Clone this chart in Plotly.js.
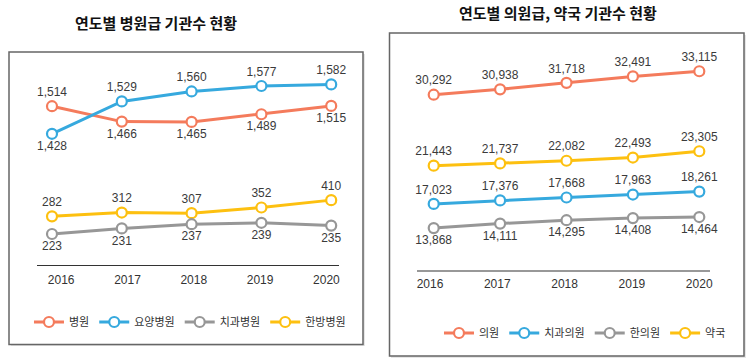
<!DOCTYPE html>
<html>
<head>
<meta charset="utf-8">
<script src="https://cdn.plot.ly/plotly-3.0.1.min.js"></script>
<style>html,body{margin:0;padding:0;background:#fff;}#chart{width:756px;height:359px;}</style>
</head>
<body>
<div id="chart"></div>
<script>
// ---- data ----
const years = [2016, 2017, 2018, 2019, 2020];
const yearLabels = ['2016', '2017', '2018', '2019', '2020'];

const leftTitle = '연도별 병원급 기관수 현황';
const rightTitle = '연도별 의원급, 약국 기관수 현황';

const hospital = [1514, 1466, 1465, 1489, 1515];          // 병원
const nursingHospital = [1428, 1529, 1560, 1577, 1582];   // 요양병원
const dentalHospital = [223, 231, 237, 239, 235];         // 치과병원
const orientalHospital = [282, 312, 307, 352, 410];       // 한방병원

const clinic = [30292, 30938, 31718, 32491, 33115];       // 의원
const dentalClinic = [17023, 17376, 17668, 17963, 18261]; // 치과의원
const orientalClinic = [13868, 14111, 14295, 14408, 14464]; // 한의원
const pharmacy = [21443, 21737, 22082, 22493, 23305];     // 약국

// ---- styles ----
const C = {red: '#F47B5C', blue: '#36A9DE', gray: '#979797', yellow: '#FDC010'};
const numFamily = '"Liberation Sans Narrow", "Liberation Sans", sans-serif';
const numFont = {family: numFamily, size: 12, color: '#3a3a3a'};
const fmt = v => v.toLocaleString('en-US');

function series(name, vals, color, xa, ya, legend, pos) {
  return {
    type: 'scatter', mode: 'lines+markers+text', name: name,
    x: years, y: vals, xaxis: xa, yaxis: ya, legend: legend,
    text: vals.map(fmt), textposition: pos, textfont: numFont,
    line: {color: color, width: 3},
    marker: {symbol: 'circle', size: 10, color: '#fff', line: {color: color, width: 2.2}},
    hoverinfo: 'x+y', cliponaxis: false
  };
}

// invisible carriers so that the year-label axes are drawn
function tickCarrier(xa, vals) {
  return {type: 'scatter', mode: 'markers', x: years, y: vals, xaxis: xa, yaxis: 'y',
          marker: {opacity: 0}, showlegend: false, hoverinfo: 'skip'};
}

const data = [
  series('병원', hospital, C.red, 'x', 'y', 'legend',
         ['top center', 'bottom center', 'bottom center', 'bottom center', 'bottom center']),
  series('요양병원', nursingHospital, C.blue, 'x', 'y', 'legend',
         ['bottom center', 'top center', 'top center', 'top center', 'top center']),
  series('치과병원', dentalHospital, C.gray, 'x', 'y3', 'legend', 'bottom center'),
  series('한방병원', orientalHospital, C.yellow, 'x', 'y2', 'legend', 'top center'),
  series('의원', clinic, C.red, 'x2', 'y4', 'legend2', 'top center'),
  series('치과의원', dentalClinic, C.blue, 'x2', 'y6', 'legend2', 'top center'),
  series('한의원', orientalClinic, C.gray, 'x2', 'y7', 'legend2', 'bottom center'),
  series('약국', pharmacy, C.yellow, 'x2', 'y5', 'legend2', 'top center'),
  tickCarrier('x3', hospital),
  tickCarrier('x4', hospital)
];

const hid = r => ({range: r, visible: false, fixedrange: true});
const hidY = (r, over) => Object.assign(hid(r), over ? {overlaying: 'y'} : {});
const tickAxis = (r, pos) => ({
  range: r, anchor: 'free', position: pos, overlaying: 'x',
  tickmode: 'array', tickvals: years, ticktext: yearLabels,
  showline: false, showgrid: false, zeroline: false, ticks: '',
  tickfont: {family: numFamily, size: 12, color: '#333'}
});

const legendFont = {family: '"Noto Sans CJK KR", sans-serif', size: 11, color: '#333'};

const layout = {
  width: 756, height: 359,
  margin: {l: 0, r: 0, t: 0, b: 0},
  paper_bgcolor: '#fff', plot_bgcolor: 'rgba(0,0,0,0)',
  showlegend: true,
  xaxis: hid([2015.255, 2026.086]),
  xaxis2: Object.assign(hid([2009.468, 2020.854]), {overlaying: 'x'}),
  xaxis3: tickAxis([2015.077, 2026.48], 0.245),
  xaxis4: tickAxis([2009.611, 2020.844], 0.234),
  yaxis: hidY([725.8, 1845.2], false),
  yaxis2: hidY([-843.9, 1989.6], true),
  yaxis3: hidY([44.4, 557.3], true),
  yaxis4: hidY([-1492, 41683], true),
  yaxis5: hidY([-3498, 42818], true),
  yaxis6: hidY([1382.7, 37579], true),
  yaxis7: hidY([6812.5, 26165.6], true),
  legend: {orientation: 'h', x: 0.2513, y: 0.1031, xanchor: 'center', yanchor: 'middle',
           font: legendFont, bgcolor: 'rgba(0,0,0,0)', itemclick: false, itemdoubleclick: false},
  legend2: {orientation: 'h', x: 0.7738, y: 0.0724, xanchor: 'center', yanchor: 'middle',
            font: legendFont, bgcolor: 'rgba(0,0,0,0)', itemclick: false, itemdoubleclick: false},
  annotations: [
    {text: '<b>' + leftTitle + '</b>', xref: 'paper', yref: 'paper', x: 0.2068, y: 0.936,
     xanchor: 'center', yanchor: 'middle', showarrow: false,
     font: {family: '"Noto Sans CJK KR", sans-serif', size: 15, color: '#111'}},
    {text: '<b>' + rightTitle + '</b>', xref: 'paper', yref: 'paper', x: 0.7381, y: 0.966,
     xanchor: 'center', yanchor: 'middle', showarrow: false,
     font: {family: '"Noto Sans CJK KR", sans-serif', size: 15, color: '#111'}}
  ],
  shapes: [
    {type: 'rect', xref: 'paper', yref: 'paper', x0: 11/756, x1: 365/756, y0: 1 - 346/359, y1: 1 - 54/359,
     line: {width: 0}, fillcolor: '#e6e6e6', layer: 'below'},
    {type: 'rect', xref: 'paper', yref: 'paper', x0: 391/756, x1: 746/756, y0: 1 - 358/359, y1: 1 - 35/359,
     line: {width: 0}, fillcolor: '#e6e6e6', layer: 'below'},
    {type: 'rect', xref: 'paper', yref: 'paper', x0: 9/756, x1: 363/756, y0: 1 - 344.5/359, y1: 1 - 52/359,
     line: {color: '#666', width: 1.5}, fillcolor: '#fff', layer: 'below'},
    {type: 'rect', xref: 'paper', yref: 'paper', x0: 389.5/756, x1: 744/756, y0: 1 - 356/359, y1: 1 - 33/359,
     line: {color: '#666', width: 1.5}, fillcolor: '#fff', layer: 'below'},
    {type: 'line', xref: 'paper', yref: 'paper', x0: 37/756, x1: 339/756, y0: 1 - 265.5/359, y1: 1 - 265.5/359,
     line: {color: '#333', width: 1.2}},
    {type: 'line', xref: 'paper', yref: 'paper', x0: 417/756, x1: 710/756, y0: 1 - 271/359, y1: 1 - 271/359,
     line: {color: '#333', width: 1.2}}
  ]
};

Plotly.newPlot('chart', data, layout, {staticPlot: true, displayModeBar: false});
</script>
</body>
</html>
